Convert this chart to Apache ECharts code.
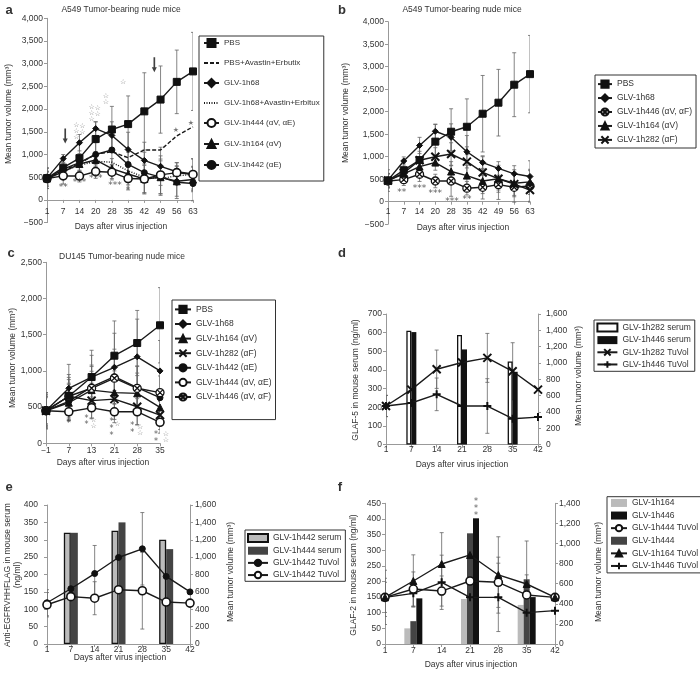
<!DOCTYPE html>
<html><head><meta charset="utf-8">
<script src="https://cdn.jsdelivr.net/npm/echarts@6.0.0/dist/echarts.min.js"></script>
<style>html,body{margin:0;padding:0;background:#fff}#c{width:700px;height:673px}</style>
</head><body><div id="c"></div>
<script>
// ---------------- DATA ----------------
// Panel a / b : A549 (days after virus injection)
const daysAB = ['1','7','14','20','28','35','42','49','56','63'];
const a_pbs     = [480, 710, 920, 1340, 1550, 1670, 1950, 2210, 2600, 2830];
const a_pbs_err = [230, 150, 330, 380, 510, 620, 850, 740, 700, 860];
const a_pbsAE   = [470, 650, 800, 1010, 1060, 930, 1100, 1100, 1410, 1610];
const a_68      = [480, 910, 1260, 1570, 1420, 1110, 870, 740, 620, 570];
const a_68_err  = [130, 90, 180, 150, 300, 380, 400, 420, 200, 330];
const a_68AE    = [470, 640, 760, 850, 830, 640, 500, 470, 530, 560];
const a_444     = [470, 530, 525, 625, 610, 470, 460, 550, 600, 560];
const a_444_err = [220, 180, 130, 150, 170, 250, 330, 420, 220, 350];
const a_164     = [470, 620, 790, 880, 690, 570, 460, 500, 410, 450];
const a_164_err = [160, 110, 150, 180, 220, 240, 300, 360, 330, 270];
const a_442     = [460, 680, 820, 1000, 1100, 780, 600, 500, 390, 360];
const a_442_err = [170, 130, 200, 260, 350, 320, 450, 400, 360, 380];

const b_pbs     = [470, 700, 925, 1335, 1555, 1665, 1955, 2200, 2600, 2835];
const b_pbs_err = [240, 160, 330, 380, 510, 620, 850, 740, 710, 860];
const b_68      = [480, 905, 1250, 1565, 1430, 1110, 870, 740, 620, 560];
const b_68_err  = [150, 90, 180, 160, 300, 360, 150, 150, 180, 350];
const b_446     = [460, 490, 610, 460, 460, 300, 320, 380, 320, 350];
const b_446_err = [160, 130, 160, 150, 340, 150, 260, 330, 330, 340];
const b_164     = [470, 620, 780, 870, 670, 580, 460, 510, 410, 440];
const b_164_err = [150, 110, 160, 170, 220, 230, 280, 300, 300, 280];
const b_282     = [470, 640, 920, 1000, 1060, 890, 650, 510, 390, 260];
const b_282_err = [150, 120, 200, 200, 250, 330, 350, 250, 250, 270];

// Panel c : DU145
const daysC = ['\u22121','7','13','21','28','35'];
const c_pbs     = [450, 650, 915, 1210, 1385, 1630];
const c_pbs_err = [250, 300, 370, 480, 450, 520];
const c_68      = [450, 760, 915, 1050, 1195, 1000];
const c_68_err  = [220, 330, 300, 470, 520, 420];
const c_164     = [450, 560, 735, 700, 690, 495];
const c_164_err = [230, 250, 260, 300, 280, 250];
const c_282     = [450, 650, 590, 610, 505, 390];
const c_282_err = [250, 230, 240, 280, 250, 200];
const c_442     = [450, 580, 780, 920, 770, 630];
const c_442_err = [200, 250, 300, 380, 300, 300];
const c_444     = [450, 435, 490, 435, 436, 290];
const c_444_err = [180, 120, 150, 150, 180, 150];
const c_446     = [450, 650, 760, 900, 760, 700];
const c_446_err = [200, 260, 300, 350, 300, 300];

// Panels d, e, f : days
const daysDEF = ['1','7','14','21','28','35','42'];
// d
const d_282_serum = [null, 610, null, 588, null, 445, null];
const d_446_serum = [null, 603, null, 510, null, 390, null];
const d_282_vol   = [472, 673, 923, 1005, 1062, 898, 673];
const d_282_err   = [130, 0, 235, 0, 300, 350, 0];
const d_446_vol   = [472, 509, 615, 472, 472, 316, 336];
const d_446_err   = [130, 0, 200, 0, 335, 0, 0];
// e
const e_442_serum = [null, 320, null, 326, null, 300, null];
const e_444_serum = [null, 320, null, 350, null, 273, null];
const e_442_vol   = [475, 636, 811, 996, 1096, 778, 600];
const e_442_err   = [150, 0, 323, 0, 417, 0, 0];
const e_444_vol   = [452, 545, 527, 625, 613, 483, 471];
const e_444_err   = [140, 0, 190, 0, 441, 0, 0];
// f
const f_164_bar = [null, 50, null, 144, null, 125, null];
const f_444_bar = [null, 73, null, 354, null, 207, null];
const f_446_bar = [null, 146, null, 402, null, 150, null];
const f_444_vol = [464, 547, 527, 627, 614, 488, 464];
const f_444_err = [150, 170, 150, 0, 250, 200, 0];
const f_164_vol = [464, 627, 796, 886, 687, 597, 464];
const f_164_err = [270, 260, 312, 0, 380, 428, 0];
const f_446_vol = [464, 504, 614, 464, 464, 312, 332];
const f_446_err = [190, 130, 270, 0, 340, 200, 0];

// significance annotations: [category index, value, text, pixel dx]
const a_sig = [[1,277,'**',0],[2,372,'***',0],[3,460,'***',0],[4,314,'***',3],[5,204,'*',0]];
const a_stars = [[2,1518,'\u2606\n\u2606\n\u2606',-3],[2,1555,'\u2606\n\u2606',3],[3,1908,'\u2606\n\u2606\n\u2606',-4],[3,1945,'\u2606\n\u2606',2],
                 [4,2212,'\u2606\n\u2606',-6],[5,2591,'\u2606',-5],[8,1533,'\u2605',-1],[9,1686,'\u2605',-2]];
const a_arrows = [[1,1409,2],[6,2978,10]];
const b_sig = [[1,200,'**',-2],[2,296,'***',0],[3,170,'***',0],[4,0,'***',1],[5,52,'**',0]];
const c_sig = [[1,267,'*',0],[2,295,'*\n*',-5],[3,198,'*\n*\n*',-3],[4,189,'*\n*',-5],[5,64,'*\n*',-4]];
const c_stars = [[2,276,'\u2606\n\u2606',2],[3,267,'\u2606',3],[4,180,'\u2606\n\u2606',3],[5,78,'\u2606\n\u2606',6]];
const f_sig = [[3,432,'*\n*\n*',6]];

// ---------------- BUILD ----------------
const FONT = "'Liberation Sans',Arial,sans-serif";
const FS = 8.5;
const TXT = '#333', AX = '#999', LINE = '#1a1a1a';
const fmt = v => (v < 0 ? '\u2212' : '') + Math.abs(v).toLocaleString('en-US');

const grids = [], xAxes = [], yAxes = [], series = [], legends = [], graphics = [];
function addGrid(left, top, width, height) { grids.push({left, top, width, height}); return grids.length - 1; }
function addX(gi, data, margin, offset) {
  xAxes.push({type:'category', gridIndex:gi, data, boundaryGap:false, offset: offset || 0,
    axisLine:{onZero:false, lineStyle:{color:AX}}, axisTick:{length:3, lineStyle:{color:AX}},
    axisLabel:{color:TXT, fontSize:FS, fontFamily:FONT, margin}, splitLine:{show:false}});
  return xAxes.length - 1;
}
function addY(gi, min, max, interval, pos, margin) {
  yAxes.push({type:'value', gridIndex:gi, min, max, interval, position:pos || 'left',
    axisLine:{show:true, lineStyle:{color:AX}}, axisTick:{show:true, length:3, lineStyle:{color:AX}},
    axisLabel:{color:TXT, fontSize:FS, fontFamily:FONT, margin: margin || 4, formatter: fmt},
    splitLine:{show:false}});
  return yAxes.length - 1;
}
const SYM = {
  pbs:   {symbol:'rect', symbolSize:7, fill:'#111'},
  h68:   {symbol:'diamond', symbolSize:6, fill:'#111'},
  open:  {symbol:'circle', symbolSize:8, fill:'#fff', bw:1.6},
  tri:   {symbol:'triangle', symbolSize:7, fill:'#111'},
  dot:   {symbol:'circle', symbolSize:6, fill:'#111'},
  cross: {symbol:'path://M0,5 A5,5 0 1 1 10,5 A5,5 0 1 1 0,5 Z M1.6,1.6 L8.4,8.4 M8.4,1.6 L1.6,8.4', symbolSize:8, fill:'#fff', bw:1.3},
  x:     {symbol:'path://M0,0 L10,10 M10,0 L0,10', symbolSize:8, fill:'#111', bw:2},
  plus:  {symbol:'path://M0,5 L10,5 M5,0 L5,10', symbolSize:8, fill:'#111', bw:2},
};
function line(name, xi, yi, data, sym, dash) {
  series.push({type:'line', name, xAxisIndex:xi, yAxisIndex:yi, data,
    symbol: sym ? sym.symbol : 'none', symbolSize: sym ? sym.symbolSize : 0, showSymbol: !!sym,
    itemStyle:{color: sym ? sym.fill : LINE, borderColor:'#111', borderWidth: sym ? (sym.bw || 1) : 0},
    lineStyle:{color:LINE, width:1.4, type: dash || 'solid'}, z:3, connectNulls:true});
}
function errBars(xi, yi, vals, errs) {
  const data = [];
  vals.forEach((v, i) => { if (v != null && errs[i]) data.push([i, v - errs[i], v + errs[i]]); });
  series.push({type:'custom', xAxisIndex:xi, yAxisIndex:yi, silent:true, z:1, clip:true,
    data, encode:{x:0, y:[1,2]},
    renderItem(params, api) {
      const x = api.value(0), p1 = api.coord([x, api.value(1)]), p2 = api.coord([x, api.value(2)]);
      const st = {stroke:'#666', lineWidth:0.8, fill:null};
      return {type:'group', children:[
        {type:'line', shape:{x1:p1[0], y1:p1[1], x2:p2[0], y2:p2[1]}, style:st},
        {type:'line', shape:{x1:p1[0]-2, y1:p1[1], x2:p1[0]+2, y2:p1[1]}, style:st},
        {type:'line', shape:{x1:p2[0]-2, y1:p2[1], x2:p2[0]+2, y2:p2[1]}, style:st}]};
    }});
}
function bar(name, xi, yi, data, color, border, width) {
  series.push({type:'bar', name, xAxisIndex:xi, yAxisIndex:yi, data, barWidth:width, barGap:'0%',
    itemStyle:{color, borderColor: border || color, borderWidth: border ? 1.3 : 0}, z:2});
}
function annot(xi, yi, items, fs, color, font) {
  series.push({type:'scatter', xAxisIndex:xi, yAxisIndex:yi, symbolSize:1, silent:true, clip:false, z:6,
    itemStyle:{color:'rgba(0,0,0,0)'},
    data: items.map(it => ({value:[it[0], it[1]], label:{show:true, position:'inside', formatter:it[2],
      offset:[it[3] || 0, 0], fontSize:fs, lineHeight:fs * 0.85, color:color || '#333', fontFamily: font || 'DejaVu Sans'}}))});
}
function legend(data, left, top, padding, itemGap, itemWidth, itemHeight, fs, formatter) {
  legends.push({orient:'vertical', left, top, data, padding, itemGap, itemWidth, itemHeight,
    borderColor:'#333', borderWidth:1, selectedMode:false, formatter,
    textStyle:{color:TXT, fontSize:fs, fontFamily:FONT}});
}
function txt(x, y, text, size, opts) {
  opts = opts || {};
  graphics.push({type:'text', x, y, rotation: opts.rot || 0, silent:true,
    style:{text, font:(opts.bold ? 'bold ' : '') + size + 'px ' + (opts.font || FONT), fill: opts.color || TXT,
      align:'center', verticalAlign:'middle', lineHeight: opts.lh || size * 1.15}});
}
const noSym = {color:'rgba(0,0,0,0)', borderColor:'rgba(0,0,0,0)', borderWidth:0, opacity:0};

// ---- panel a ----
let g = addGrid(47, 18.3, 146, 204.3);
let xi = addX(g, daysAB, 7, -22.7);
let yi = addY(g, -500, 4000, 500);
errBars(xi, yi, a_pbs, a_pbs_err); errBars(xi, yi, a_68, a_68_err); errBars(xi, yi, a_444, a_444_err);
errBars(xi, yi, a_164, a_164_err); errBars(xi, yi, a_442, a_442_err);
line('PBS+Avastin+Erbutix', xi, yi, a_pbsAE, null, [4, 2]);
line('GLV-1h68+Avastin+Erbitux', xi, yi, a_68AE, null, [1, 1.5]);
line('GLV-1h164 (\u03b1V)', xi, yi, a_164, SYM.tri);
line('GLV-1h442 (\u03b1E)', xi, yi, a_442, SYM.dot);
line('GLV-1h68', xi, yi, a_68, SYM.h68);
line('GLV-1h444 (\u03b1V, \u03b1E)', xi, yi, a_444, SYM.open);
line('PBS', xi, yi, a_pbs, SYM.pbs);
annot(xi, yi, a_sig, 9);
annot(xi, yi, a_stars, 7, '#555');
series.push({type:'scatter', xAxisIndex:xi, yAxisIndex:yi, silent:true, clip:false, z:6,
  symbol:'path://M2,0 L4,0 L4,10 L6,10 L3,15 L0,10 L2,10 Z', symbolSize:[5,15], itemStyle:{color:'#111'},
  data: a_arrows.map(r => ({value:[r[0], r[1]], symbolOffset:[r[2], 0]}))});
legend(['PBS',{name:'PBS+Avastin+Erbutix', itemStyle:noSym},'GLV-1h68',{name:'GLV-1h68+Avastin+Erbitux', itemStyle:noSym},
  'GLV-1h444 (\u03b1V, \u03b1E)','GLV-1h164 (\u03b1V)','GLV-1h442 (\u03b1E)'],
  199, 36, [2, 4, 11, 4], 11, 15, 10, 8);

// ---- panel b ----
g = addGrid(388, 21.7, 142, 202.5);
xi = addX(g, daysAB, 5, -22.5);
yi = addY(g, -500, 4000, 500);
errBars(xi, yi, b_pbs, b_pbs_err); errBars(xi, yi, b_68, b_68_err); errBars(xi, yi, b_446, b_446_err);
errBars(xi, yi, b_164, b_164_err); errBars(xi, yi, b_282, b_282_err);
line('GLV-1h446 (\u03b1V, \u03b1F)', xi, yi, b_446, SYM.cross);
line('GLV-1h164 (\u03b1V)', xi, yi, b_164, SYM.tri);
line('GLV-1h282 (\u03b1F)', xi, yi, b_282, SYM.x);
line('GLV-1h68', xi, yi, b_68, SYM.h68);
line('PBS', xi, yi, b_pbs, SYM.pbs);
annot(xi, yi, b_sig, 9);
legend(['PBS','GLV-1h68','GLV-1h446 (\u03b1V, \u03b1F)','GLV-1h164 (\u03b1V)','GLV-1h282 (\u03b1F)'],
  595, 75, [4.5, 4, 3.5, 2], 4.75, 14, 9, FS);

// ---- panel c ----
g = addGrid(46, 262.3, 114, 181);
xi = addX(g, daysC, 2.5);
yi = addY(g, 0, 2500, 500);
errBars(xi, yi, c_pbs, c_pbs_err); errBars(xi, yi, c_68, c_68_err); errBars(xi, yi, c_164, c_164_err);
errBars(xi, yi, c_282, c_282_err); errBars(xi, yi, c_442, c_442_err); errBars(xi, yi, c_444, c_444_err);
errBars(xi, yi, c_446, c_446_err);
line('GLV-1h164 (\u03b1V)', xi, yi, c_164, SYM.tri);
line('GLV-1h282 (\u03b1F)', xi, yi, c_282, SYM.x);
line('GLV-1h442 (\u03b1E)', xi, yi, c_442, SYM.dot);
line('GLV-1h446 (\u03b1V, \u03b1F)', xi, yi, c_446, SYM.cross);
line('GLV-1h444 (\u03b1V, \u03b1E)', xi, yi, c_444, SYM.open);
line('GLV-1h68', xi, yi, c_68, SYM.h68);
line('PBS', xi, yi, c_pbs, SYM.pbs);
annot(xi, yi, c_sig, 8);
annot(xi, yi, c_stars, 7, '#555');
legend(['PBS','GLV-1h68','GLV-1h164 (\u03b1V)','GLV-1h282 (\u03b1F)','GLV-1h442 (\u03b1E)','GLV-1h444 (\u03b1V, \u03b1E)','GLV-1h446 (\u03b1V, \u03b1F)'],
  172, 300, [4.8, 4, 18, 2], 5.4, 16, 9, FS);

// ---- panel d ----
g = addGrid(386, 314, 152, 130.5);
xi = addX(g, daysDEF, 1);
yi = addY(g, 0, 700, 100, 'left', 4);
let yr = addY(g, 0, 1600, 200, 'right', 8);
bar('GLV-1h282 serum', xi, yi, d_282_serum, '#fff', '#111', 5);
bar('GLV-1h446 serum', xi, yi, d_446_serum, '#111', null, 5);
errBars(xi, yr, d_282_vol, d_282_err); errBars(xi, yr, d_446_vol, d_446_err);
line('GLV-1h446 TuVol', xi, yr, d_446_vol, SYM.plus);
line('GLV-1h282 TuVol', xi, yr, d_282_vol, SYM.x);
legend([{name:'GLV-1h282 serum', icon:'rect'},{name:'GLV-1h446 serum', icon:'rect'},'GLV-1h282 TuVol','GLV-1h446 TuVol'],
  594, 320, [2.45, 4, 2.35, 2.4], 3.17, 20, 8, FS);

// ---- panel e ----
g = addGrid(47, 505, 143, 139);
xi = addX(g, daysDEF, 1);
yi = addY(g, 0, 400, 50, 'left', 9);
yr = addY(g, 0, 1600, 200, 'right', 5);
bar('GLV-1h442 serum', xi, yi, e_442_serum, '#bbb', '#111', 7);
bar('GLV-1h444 serum', xi, yi, e_444_serum, '#444', null, 7);
errBars(xi, yr, e_442_vol, e_442_err); errBars(xi, yr, e_444_vol, e_444_err);
line('GLV-1h442 TuVol', xi, yr, e_442_vol, SYM.dot);
line('GLV-1h442 TuVol (open)', xi, yr, e_444_vol, SYM.open);
legend([{name:'GLV-1h442 serum', icon:'rect'},{name:'GLV-1h444 serum', icon:'rect'},'GLV-1h442 TuVol','GLV-1h442 TuVol (open)'],
  245, 530, [3.05, 4, 1.75, 2], 3.17, 20, 8, FS, n => n.replace(' (open)', ''));

// ---- panel f ----
g = addGrid(385, 503.3, 170, 140.7);
xi = addX(g, daysDEF, 2);
yi = addY(g, 0, 450, 50, 'left', 4);
yr = addY(g, 0, 1400, 200, 'right', 4);
bar('GLV-1h164', xi, yi, f_164_bar, '#bbb', null, 6);
bar('GLV-1h444', xi, yi, f_444_bar, '#444', null, 6);
bar('GLV-1h446', xi, yi, f_446_bar, '#111', null, 6);
errBars(xi, yr, f_164_vol, f_164_err); errBars(xi, yr, f_444_vol, f_444_err); errBars(xi, yr, f_446_vol, f_446_err);
line('GLV-1h446 TuVol', xi, yr, f_446_vol, SYM.plus);
line('GLV-1h444 TuVol', xi, yr, f_444_vol, SYM.open);
line('GLV-1h164 TuVol', xi, yr, f_164_vol, SYM.tri);
annot(xi, yi, f_sig, 8);
legend([{name:'GLV-1h164', icon:'rect'},{name:'GLV-1h446', icon:'rect'},'GLV-1h444 TuVol',{name:'GLV-1h444', icon:'rect'},'GLV-1h164 TuVol','GLV-1h446 TuVol'],
  607, 496.7, [1.75, 4, 2.45, 3], 3.6, 16, 8, FS);

// ---- texts ----
txt(9, 10, 'a', 13, {bold:true});
txt(342, 10, 'b', 13, {bold:true});
txt(11, 253, 'c', 13, {bold:true});
txt(342, 253, 'd', 13, {bold:true});
txt(9, 487, 'e', 13, {bold:true});
txt(340, 487, 'f', 13, {bold:true});
txt(121, 9.5, 'A549 Tumor-bearing nude mice', FS);
txt(462, 10, 'A549 Tumor-bearing nude mice', FS);
txt(122, 257, 'DU145 Tumor-bearing nude mice', FS);
const R = Math.PI / 2;
txt(9, 114, 'Mean tumor volume (mm\u00b3)', FS, {rot:R});
txt(346, 113, 'Mean tumor volume (mm\u00b3)', FS, {rot:R});
txt(12.5, 358, 'Mean tumor volume (mm\u00b3)', FS, {rot:R});
txt(356, 380, 'GLAF-5 in mouse serum (ng/ml)', FS, {rot:R});
txt(579, 376, 'Mean tumor volume (mm\u00b3)', FS, {rot:R});
txt(12.5, 575, 'Anti-EGFRVHHFLAG in mouse serum\n(ng/ml)', FS, {rot:R, lh:10});
txt(231, 572, 'Mean tumor volume (mm\u00b3)', FS, {rot:R});
txt(354, 575, 'GLAF-2 in mouse serum (ng/ml)', FS, {rot:R});
txt(599, 572, 'Mean tumor volume (mm\u00b3)', FS, {rot:R});
txt(121, 227, 'Days after virus injection', FS);
txt(463, 228, 'Days after virus injection', FS);
txt(103, 463, 'Days after virus injection', FS);
txt(462, 465, 'Days after virus injection', FS);
txt(120, 658, 'Days after virus injection', FS);
txt(471, 665, 'Days after virus injection', FS);

const chart = echarts.init(document.getElementById('c'), null, {renderer:'canvas'});
chart.setOption({animation:false, backgroundColor:'#fff', textStyle:{fontFamily:FONT},
  grid:grids, xAxis:xAxes, yAxis:yAxes, series, legend:legends, graphic:graphics});
</script></body></html>
